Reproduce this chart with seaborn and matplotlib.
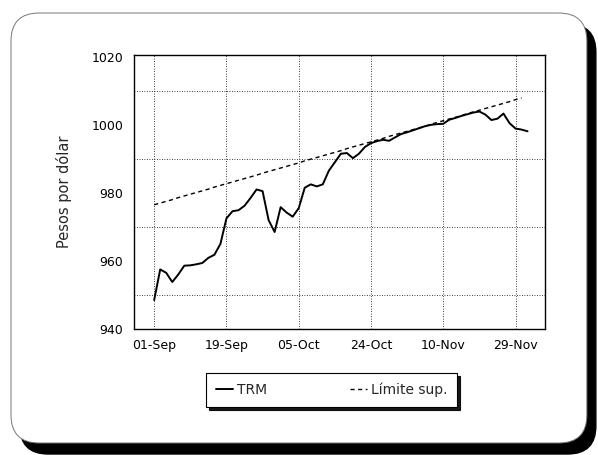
import numpy as np
import pandas as pd
import matplotlib.pyplot as plt
import seaborn as sns
from matplotlib.patches import FancyBboxPatch

# TRM (pesos por dolar), one value per trading day starting 01-Sep
trm = [948.5, 957.5, 956.5, 953.8, 956.0, 958.6, 958.7, 959.0, 959.4, 960.9,
       961.8, 965.0, 972.5, 974.6, 974.9, 976.2, 978.5, 981.0, 980.5, 972.0,
       968.5, 975.8, 974.2, 973.0, 975.5, 981.5, 982.5, 981.9, 982.5, 986.5,
       989.0, 991.5, 991.7, 990.2, 991.5, 993.5, 994.6, 995.2, 995.6, 995.3,
       996.3, 997.3, 997.8, 998.4, 999.0, 999.6, 1000.0, 1000.2, 1000.3, 1001.5,
       1002.0, 1002.6, 1003.1, 1003.6, 1003.9, 1003.0, 1001.4, 1001.8, 1003.3, 1000.5,
       998.9, 998.6, 998.1]

# limite superior de la banda cambiaria
limite = [976.5, 977.0, 977.5, 978.0, 978.6, 979.1, 979.6, 980.1, 980.6, 981.1,
          981.7, 982.2, 982.7, 983.2, 983.7, 984.2, 984.7, 985.2, 985.8, 986.3,
          986.8, 987.3, 987.8, 988.3, 988.8, 989.4, 989.9, 990.4, 990.9, 991.4,
          991.9, 992.4, 993.0, 993.5, 994.0, 994.5, 995.0, 995.5, 996.0, 996.6,
          997.1, 997.6, 998.1, 998.6, 999.1, 999.6, 1000.2, 1000.7, 1001.2, 1001.7,
          1002.2, 1002.7, 1003.3, 1003.8, 1004.3, 1004.8, 1005.3, 1005.8, 1006.3, 1006.8,
          1007.4, 1007.9]

tick_pos = [0, 12, 24, 36, 48, 60]
tick_labels = ["01-Sep", "19-Sep", "05-Oct", "24-Oct", "10-Nov", "29-Nov"]

sns.set_style("white")
plt.rcParams["font.family"] = ["DejaVu Sans"]

df_trm = pd.DataFrame({"dia": np.arange(len(trm)), "valor": trm})
df_lim = pd.DataFrame({"dia": np.arange(len(limite)), "valor": limite})

fig = plt.figure(figsize=(5.98, 4.55), dpi=100)

# rounded frame with a heavy shadow on the right and bottom
asp = 598 / 455
shadow = FancyBboxPatch((0.0334, 0.0022), 0.963, 0.945, transform=fig.transFigure,
                        boxstyle="round,pad=0,rounding_size=0.047", mutation_aspect=asp,
                        facecolor="black", edgecolor="black", zorder=0)
box = FancyBboxPatch((0.0184, 0.0264), 0.963, 0.945, transform=fig.transFigure,
                     boxstyle="round,pad=0,rounding_size=0.047", mutation_aspect=asp,
                     facecolor="white", edgecolor="#777777", linewidth=0.7, zorder=1)
fig.add_artist(shadow)
fig.add_artist(box)

ax = fig.add_axes([0.2246, 0.277, 0.6868, 0.602])
ax.set_zorder(2)

sns.lineplot(data=df_trm, x="dia", y="valor", ax=ax, color="black", linewidth=1.4, label="TRM")
sns.lineplot(data=df_lim, x="dia", y="valor", ax=ax, color="black", linewidth=1.0,
             linestyle=(0, (3, 2.5)), label="Límite sup.")

ax.set_xlim(-3.3, 64.9)
ax.set_ylim(940, 1020.5)
ax.set_xticks(tick_pos)
ax.set_xticklabels(tick_labels)
ax.set_yticks([940, 960, 980, 1000, 1020])
ax.set_yticks([950, 970, 990, 1010], minor=True)
ax.tick_params(axis="both", labelsize=9, colors="black")
ax.tick_params(axis="y", which="major", direction="in", length=4, width=0.8, pad=8)
ax.tick_params(axis="y", which="minor", length=0)
ax.tick_params(axis="x", length=0, pad=7)

ax.grid(True, axis="x", which="major", color="black", linestyle=(0, (1, 2)), linewidth=0.6)
ax.grid(True, axis="y", which="minor", color="black", linestyle=(0, (1, 2)), linewidth=0.6)

for sp in ax.spines.values():
    sp.set_color("black")
    sp.set_linewidth(1.0)

ax.set_xlabel("")
ax.set_ylabel("Pesos por dólar", fontsize=10.5, labelpad=14)

leg = ax.legend(loc="upper center", bbox_to_anchor=(0.481, -0.16), ncol=2,
                frameon=True, fancybox=False, shadow={"color": "black", "alpha": 0.9},
                edgecolor="black", borderaxespad=0,
                handlelength=1.2, handletextpad=0.3, columnspacing=6.0,
                fontsize=10, borderpad=0.7)
leg.get_frame().set_linewidth(0.8)

fig.savefig("out.png", dpi=100)
